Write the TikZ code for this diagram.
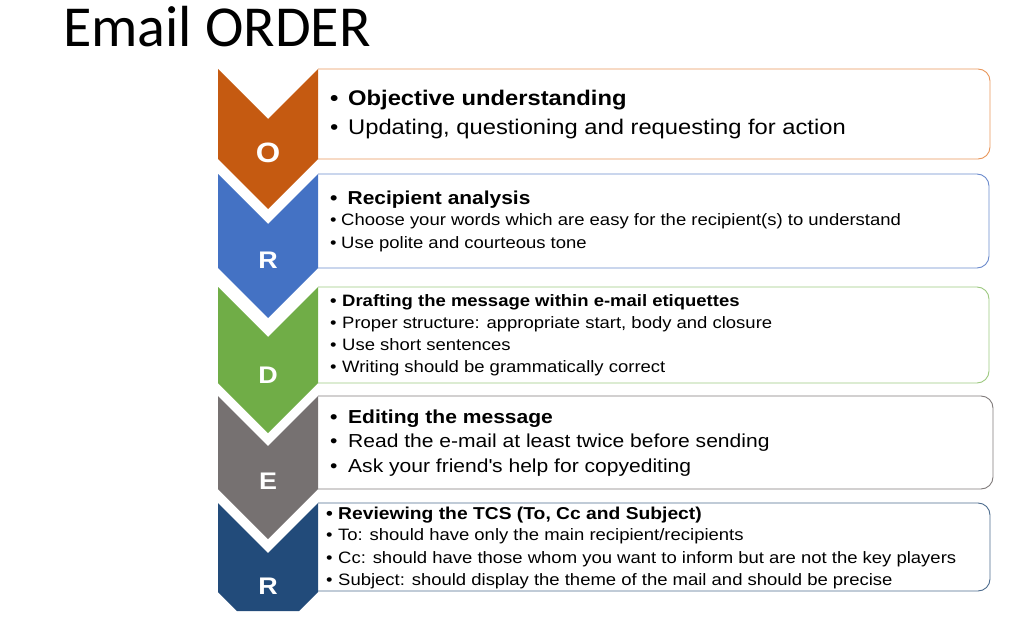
\documentclass[tikz,border=0pt]{standalone}
\usepackage{fontspec}
\setmainfont[FakeStretch=1.12]{Liberation Sans}
\newfontfamily\titlefont{Carlito}
\usepackage{tikz}

\definecolor{chevO}{HTML}{C55A11}
\definecolor{chevR}{HTML}{4472C4}
\definecolor{chevD}{HTML}{70AD47}
\definecolor{chevE}{HTML}{767171}
\definecolor{chevRR}{HTML}{224B7A}
\definecolor{edgeO}{HTML}{E8965A}
\definecolor{edgeR}{HTML}{6A8ACC}
\definecolor{edgeD}{HTML}{9CC87F}
\definecolor{edgeE}{HTML}{807B7B}
\definecolor{edgeRR}{HTML}{4D6C8E}

\tikzset{
  card/.style={line width=0.9pt, rounded corners=12pt},
  txt/.style={anchor=base west, inner sep=0pt},
  lett/.style={text=white, inner sep=0pt, font=\bfseries\fontsize{24}{24}\selectfont},
}
\newcommand{\bitem}[2]{\makebox[#1][l]{\textbullet}#2}

\begin{document}
\begin{tikzpicture}[x=1pt, y=-1pt]
  \useasboundingbox (0,0) rectangle (1026,626);

  % title
  \node[anchor=base west, inner sep=0pt, font=\titlefont\fontsize{58}{58}\selectfont] (title) at (63,47) {Email ORDER};

  % boxes on the right
  \draw[card, draw=edgeO] (318,69) -- (990,69) -- (990,159) -- (318,159);
  \draw[card, draw=edgeR] (318,174) -- (989,174) -- (989,268) -- (318,268);
  \draw[card, draw=edgeD] (318,287) -- (989,287) -- (989,383) -- (318,383);
  \draw[card, draw=edgeE] (318,396) -- (993,396) -- (993,489) -- (318,489);
  \draw[card, draw=edgeRR] (318,503) -- (990,503) -- (990,591) -- (318,591);

  % chevrons on the left
  \fill[chevO] (218,69) -- (268,119) -- (318,69) -- (318,159) -- (268,209) -- (218,159) -- cycle;
  \fill[chevR] (218,174) -- (268,224) -- (318,174) -- (318,268) -- (268,318) -- (218,268) -- cycle;
  \fill[chevD] (218,287) -- (268,337) -- (318,287) -- (318,383) -- (268,433) -- (218,383) -- cycle;
  \fill[chevE] (218,396) -- (268,446) -- (318,396) -- (318,489) -- (268,539) -- (218,489) -- cycle;
  \fill[chevRR] (218,503) -- (268,553) -- (318,503) -- (318,592) -- (299,611) -- (237,611) -- (218,592) -- cycle;

  \node[lett, font=\bfseries\fontsize{28}{28}\selectfont] (lo) at (268,153) {O};
  \node[lett] (lr) at (268,260) {R};
  \node[lett] (ld) at (268,375) {D};
  \node[lett] (le) at (268,481) {E};
  \node[lett] (lrr) at (268,586) {R};

  % O
  \node[txt, font=\bfseries\fontsize{21.2}{25}\selectfont] (o1) at (330,105.5) {\bitem{18pt}{Objective understanding}};
  \node[txt, font=\fontsize{21.2}{25}\selectfont] (o2) at (330,134) {\bitem{18pt}{Updating, questioning and requesting for action}};

  % R
  \node[txt, font=\bfseries\fontsize{18.7}{22}\selectfont] (r1) at (330,204.5) {\bitem{17.5pt}{Recipient analysis}};
  \node[txt, font=\fontsize{16.5}{20}\selectfont] (r2) at (330,225.5) {\bitem{11pt}{Choose your words which are easy for the recipient(s) to understand}};
  \node[txt, font=\fontsize{16.5}{20}\selectfont] (r3) at (330,248.5) {\bitem{11pt}{Use polite and courteous tone}};

  % D
  \node[txt, font=\bfseries\fontsize{16.5}{20}\selectfont] (d1) at (330,306) {\bitem{12pt}{Drafting the message within e-mail etiquettes}};
  \node[txt, font=\fontsize{16.5}{20}\selectfont] (d2) at (330,328.3) {\bitem{12pt}{Proper structure: appropriate start, body and closure}};
  \node[txt, font=\fontsize{16.5}{20}\selectfont] (d3) at (330,350.6) {\bitem{12pt}{Use short sentences}};
  \node[txt, font=\fontsize{16.5}{20}\selectfont] (d4) at (330,372.9) {\bitem{12pt}{Writing should be grammatically correct}};

  % E
  \node[txt, font=\bfseries\fontsize{18.8}{22}\selectfont] (e1) at (330,423.3) {\bitem{18pt}{Editing the message}};
  \node[txt, font=\fontsize{18.8}{22}\selectfont] (e2) at (330,447.6) {\bitem{18pt}{Read the e-mail at least twice before sending}};
  \node[txt, font=\fontsize{18.8}{22}\selectfont] (e3) at (330,472.2) {\bitem{18pt}{Ask your friend\textquotesingle s help for copyediting}};

  % R
  \node[txt, font=\bfseries\fontsize{17.2}{20}\selectfont] (rr1) at (326,519.3) {\bitem{12pt}{Reviewing the TCS (To, Cc and Subject)}};
  \node[txt, font=\fontsize{16.5}{20}\selectfont] (rr2) at (326,540.9) {\bitem{12pt}{To: should have only the main recipient/recipients}};
  \node[txt, font=\fontsize{16.5}{20}\selectfont] (rr3) at (326,563.1) {\bitem{12pt}{Cc: should have those whom you want to inform but are not the key players}};
  \node[txt, font=\fontsize{16.5}{20}\selectfont] (rr4) at (326,585.8) {\bitem{12pt}{Subject: should display the theme of the mail and should be precise}};
\end{tikzpicture}
\end{document}
